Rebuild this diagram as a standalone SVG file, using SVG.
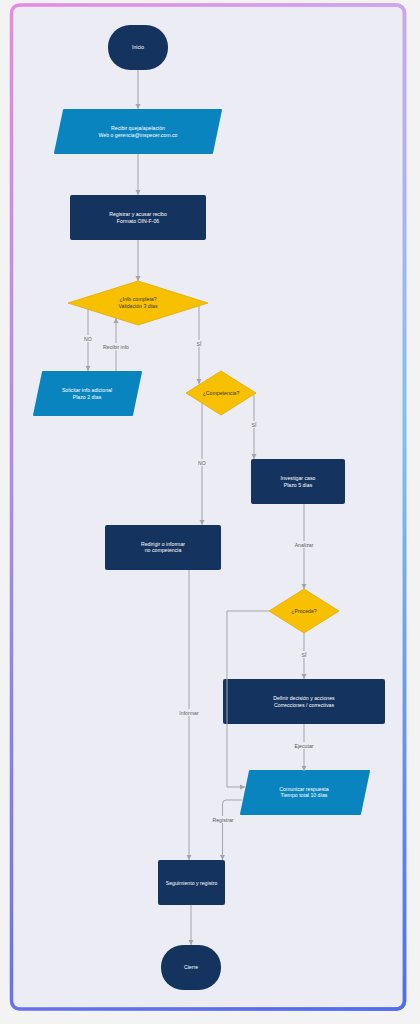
<svg xmlns="http://www.w3.org/2000/svg" width="420" height="1024" viewBox="0 0 420 1024">
<style>
.t{font-family:"Liberation Sans",Arial,sans-serif;font-size:5.2px;text-anchor:middle}
.w{fill:#ffffff}
.d{fill:#3a3a3a}
.lb{fill:#5a5a5e}
.navy{fill:#15335f}
.blue{fill:#0a84bf;stroke:#0a84bf;stroke-width:2;stroke-linejoin:round}
.yel{fill:#f7c000;stroke:#e2ab00;stroke-width:0.8;stroke-linejoin:round}
.c{fill:none;stroke:#a4a4aa;stroke-width:1}
.lbg{fill:#ecedf4}
</style>
<defs>
<marker id="ah" markerUnits="userSpaceOnUse" markerWidth="6" markerHeight="6" refX="5" refY="3" orient="auto">
<path d="M0,0.5 L5,3 L0,5.5 z" fill="#a4a4aa"/>
</marker>
<linearGradient id="gl" gradientUnits="userSpaceOnUse" x1="0" y1="4" x2="0" y2="1010">
<stop offset="0" stop-color="#e68ae2"/>
<stop offset="0.5" stop-color="#a88ce8"/>
<stop offset="1" stop-color="#6872e8"/>
</linearGradient>
<linearGradient id="gr" gradientUnits="userSpaceOnUse" x1="0" y1="4" x2="0" y2="1010">
<stop offset="0" stop-color="#cba8ee"/>
<stop offset="0.42" stop-color="#76c6f2"/>
<stop offset="1" stop-color="#4e6eea"/>
</linearGradient>
<linearGradient id="hf" gradientUnits="userSpaceOnUse" x1="11" y1="0" x2="405" y2="0">
<stop offset="0" stop-color="#000"/>
<stop offset="1" stop-color="#fff"/>
</linearGradient>
<mask id="rm" maskUnits="userSpaceOnUse" x="0" y="0" width="420" height="1024">
<rect x="0" y="0" width="420" height="1024" fill="url(#hf)"/>
</mask>
</defs>
<rect x="0" y="0" width="420" height="1024" fill="#f3f3f4"/>
<g id="frame">
<rect x="11.5" y="5" width="393" height="1004" rx="8" fill="#ecedf4" stroke="url(#gl)" stroke-width="3.5"/>
<rect x="11.5" y="5" width="393" height="1004" rx="8" fill="none" stroke="url(#gr)" stroke-width="3.5" mask="url(#rm)"/>
</g>
<g id="nodes">
<g id="inicio"><rect x="108" y="25" width="60" height="45" rx="22" ry="22" class="navy"/><text class="t w" x="138" y="49">Inicio</text></g>
<g id="recibir"><path d="M64,110 L221,110 L212,153 L55,153 z" class="blue"/><text class="t w" x="138" y="130">Recibir queja/apelación</text><text class="t w" x="138" y="136.5">Web o gerencia@inspecer.com.co</text></g>
<g id="registrar"><rect x="70" y="195" width="136" height="45" rx="2" class="navy"/><text class="t w" x="138" y="216">Registrar y acusar recibo</text><text class="t w" x="138" y="222.5">Formato OIN-F-06</text></g>
<g id="infocompleta"><path d="M138,281 L208,303 L138,325 L68,303 z" class="yel"/><text class="t d" x="138" y="301">¿Info completa?</text><text class="t d" x="138" y="307.5">Validación 3 días</text></g>
<g id="solicitar"><path d="M43,372 L141,372 L132,415 L34,415 z" class="blue"/><text class="t w" x="87" y="392">Solicitar info adicional</text><text class="t w" x="87" y="398.5">Plazo 2 días</text></g>
<g id="competencia"><path d="M221,371 L256,393 L221,415 L186,393 z" class="yel"/><text class="t d" x="221" y="395">¿Competencia?</text></g>
<g id="investigar"><rect x="251" y="459" width="94" height="45" rx="2" class="navy"/><text class="t w" x="298" y="480">Investigar caso</text><text class="t w" x="298" y="486.5">Plazo 5 días</text></g>
<g id="redirigir"><rect x="105" y="525" width="116" height="45" rx="2" class="navy"/><text class="t w" x="163" y="545.5">Redirigir o informar</text><text class="t w" x="163" y="552">no competencia</text></g>
<g id="procede"><path d="M304,589 L339,611 L304,633 L269,611 z" class="yel"/><text class="t d" x="304" y="613">¿Procede?</text></g>
<g id="definir"><rect x="223" y="679" width="162" height="45" rx="2" class="navy"/><text class="t w" x="304" y="700">Definir decisión y acciones</text><text class="t w" x="304" y="706.5">Correcciones / correctivas</text></g>
<g id="comunicar"><path d="M250,771 L369,771 L360,814 L241,814 z" class="blue"/><text class="t w" x="304" y="790.5">Comunicar respuesta</text><text class="t w" x="304" y="797">Tiempo total 10 días</text></g>
<g id="seguimiento"><rect x="158" y="860" width="67" height="45" rx="2" class="navy"/><text class="t w" x="191.5" y="884.5">Seguimiento y registro</text></g>
<g id="cierre"><rect x="161" y="945" width="60" height="45" rx="22" ry="22" class="navy"/><text class="t w" x="191" y="969">Cierre</text></g>
</g>
<g id="connectors">
<path class="c" d="M138,70 V109" marker-end="url(#ah)"/>
<path class="c" d="M138,154 V195" marker-end="url(#ah)"/>
<path class="c" d="M138,240 V281" marker-end="url(#ah)"/>
<path class="c" d="M88,309 V371" marker-end="url(#ah)"/>
<path class="c" d="M116,371 V318" marker-end="url(#ah)"/>
<path class="c" d="M199,306 V384" marker-end="url(#ah)"/>
<path class="c" d="M202,403 V525" marker-end="url(#ah)"/>
<path class="c" d="M254,395 V459" marker-end="url(#ah)"/>
<path class="c" d="M304,504 V589" marker-end="url(#ah)"/>
<path class="c" d="M269,611 H227 V787 H245" marker-end="url(#ah)"/>
<path class="c" d="M304,633 V679" marker-end="url(#ah)"/>
<path class="c" d="M304,724 V771" marker-end="url(#ah)"/>
<path class="c" d="M242,800 H226 Q222.5,800 222.5,804 V860" marker-end="url(#ah)"/>
<path class="c" d="M189,570 V860" marker-end="url(#ah)"/>
<path class="c" d="M191,905 V945" marker-end="url(#ah)"/>
<g id="labels">
<rect class="lbg" x="83" y="335" width="10" height="7"/><text class="t lb" x="88" y="340.5">NO</text>
<rect class="lbg" x="101" y="343" width="30" height="7"/><text class="t lb" x="116" y="348.5">Recibir info</text>
<rect class="lbg" x="195" y="340" width="8" height="7"/><text class="t lb" x="199" y="345.5">SÍ</text>
<rect class="lbg" x="197" y="459" width="10" height="7"/><text class="t lb" x="202" y="464.5">NO</text>
<rect class="lbg" x="250" y="421" width="8" height="7"/><text class="t lb" x="254" y="426.5">SÍ</text>
<rect class="lbg" x="293" y="541" width="22" height="7"/><text class="t lb" x="304" y="546.5">Analizar</text>
<rect class="lbg" x="300" y="651" width="8" height="7"/><text class="t lb" x="304" y="656.5">SÍ</text>
<rect class="lbg" x="293" y="742" width="22" height="7"/><text class="t lb" x="304" y="747.5">Ejecutar</text>
<rect class="lbg" x="178" y="709" width="22" height="7"/><text class="t lb" x="189" y="714.5">Informar</text>
<rect class="lbg" x="211" y="816" width="24" height="7"/><text class="t lb" x="223" y="821.5">Registrar</text>
</g>
</g>
</svg>
